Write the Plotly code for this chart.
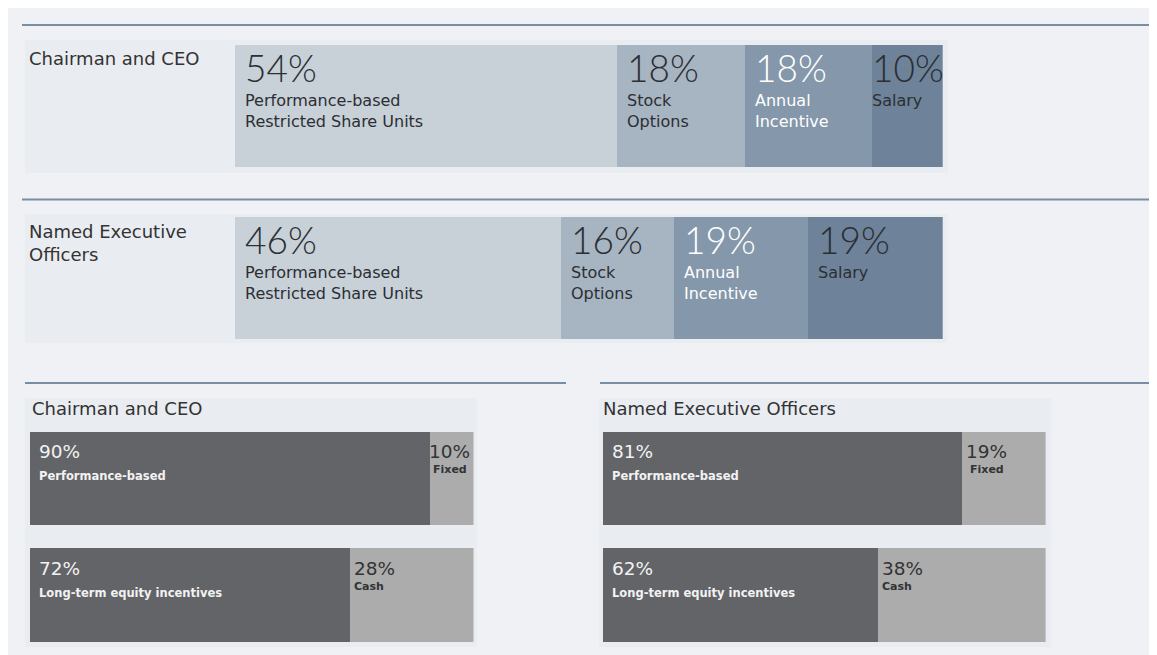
import plotly.graph_objects as go

W, H = 1157, 655

# top chart: target pay mix by component
top_rows = ["Chairman and CEO", "Named Executive Officers"]
top_row_labels = ["Chairman and CEO", "Named Executive<br>Officers"]
components = ["Performance-based<br>Restricted Share Units", "Stock<br>Options", "Annual<br>Incentive", "Salary"]
ceo_mix = [54, 18, 18, 10]
neo_mix = [46, 16, 19, 19]

# bottom charts: performance-based vs fixed, equity vs cash
split_rows = ["perf", "equity"]
split_titles = ["Chairman and CEO", "Named Executive Officers"]
main_labels = ["Performance-based", "Long-term equity incentives"]
rest_labels = ["Fixed", "Cash"]
ceo_main = [90, 72]
ceo_rest = [10, 28]
neo_main = [81, 62]
neo_rest = [19, 38]

comp_colors = ["#c8d0d8", "#a7b4c1", "#8597aa", "#6e8399"]
comp_text = ["#2b2e33", "#2b2e33", "#ffffff", "#2b2e33"]
dark, light = "#636468", "#acacad"
line_col = "#7a8ea3"
box_col = "#e9ecf0"

# page body has an 8px margin, positions below are measured on the page
OFF = 8


def px(x):
    return (x - OFF) / W


def py(y):
    return 1 - (y - OFF) / H


fig = go.Figure()

# top stacked bars
for i, comp in enumerate(components):
    fig.add_trace(go.Bar(
        x=[ceo_mix[i], neo_mix[i]], y=top_rows, orientation="h",
        marker=dict(color=comp_colors[i], line=dict(width=0)),
        width=0.71, name=comp, xaxis="x", yaxis="y", hoverinfo="skip",
    ))

# bottom stacked bars
panels = [(ceo_main, ceo_rest, "x2", "y2"), (neo_main, neo_rest, "x3", "y3")]
for main, rest, xa, ya in panels:
    fig.add_trace(go.Bar(x=main, y=split_rows, orientation="h", marker=dict(color=dark, line=dict(width=0)),
                         width=0.8, xaxis=xa, yaxis=ya, hoverinfo="skip"))
    fig.add_trace(go.Bar(x=rest, y=split_rows, orientation="h", marker=dict(color=light, line=dict(width=0)),
                         width=0.8, xaxis=xa, yaxis=ya, hoverinfo="skip"))

ann = []
font_num = "Lato"
font_txt = "DejaVu Sans"

# top labels
for r, (row, mix) in enumerate(zip(top_rows, [ceo_mix, neo_mix])):
    base = 0
    for i, v in enumerate(mix):
        pad = 10 if v >= 15 else 0
        ann.append(dict(x=base, y=row, xref="x", yref="y", text=f"{v}%", showarrow=False,
                        xanchor="left", yanchor="middle", xshift=pad - 2, yshift=38.5,
                        font=dict(family=font_num, size=37, color=comp_text[i], weight=300)))
        ann.append(dict(x=base, y=row, xref="x", yref="y", text=components[i], showarrow=False,
                        xanchor="left", yanchor="top", xshift=pad - 2, yshift=17, align="left",
                        font=dict(family=font_txt, size=16, color=comp_text[i])))
        base += v

# top row names
for lbl, ytop in zip(top_row_labels, [45.5, 219.5]):
    ann.append(dict(x=px(27), y=py(ytop), xref="paper", yref="paper", text=lbl, showarrow=False,
                    xanchor="left", yanchor="top", align="left",
                    font=dict(family=font_txt, size=18, color="#333333")))

# bottom labels
for (main, rest, xa, ya), title, tx in zip(panels, split_titles, [30, 601]):
    ann.append(dict(x=px(tx), y=py(408.5), xref="paper", yref="paper", text=title, showarrow=False,
                    xanchor="left", yanchor="middle", font=dict(family=font_txt, size=18, color="#333333")))
    for r, row in enumerate(split_rows):
        ann.append(dict(x=0, y=row, xref=xa, yref=ya, text=f"{main[r]}%", showarrow=False,
                        xanchor="left", yanchor="middle", xshift=7, yshift=26.5,
                        font=dict(family=font_txt, size=18.5, color="#f2f2f2")))
        ann.append(dict(x=0, y=row, xref=xa, yref=ya, text=f"<b>{main_labels[r]}</b>", showarrow=False,
                        xanchor="left", yanchor="middle", xshift=7, yshift=2,
                        font=dict(family=font_txt, size=11.5, color="#f2f2f2")))
        pad = 0 if rest[r] < 15 else 5
        ann.append(dict(x=main[r], y=row, xref=xa, yref=ya, text=f"{rest[r]}%", showarrow=False,
                        xanchor="left", yanchor="middle", xshift=pad - 2, yshift=26.5,
                        font=dict(family=font_txt, size=18.5, color="#333333")))
        ann.append(dict(x=main[r], y=row, xref=xa, yref=ya, text=f"<b>{rest_labels[r]}</b>", showarrow=False,
                        xanchor="left", yanchor="middle", xshift=pad - 2 + (4 if r == 0 else 0), yshift=8.5,
                        font=dict(family=font_txt, size=11, color="#333333")))

shapes = []
for x0, y0, x1, y1 in [(25, 40, 948, 172.7), (25, 214, 947, 342.7), (25, 398, 477, 647), (599, 398, 1051, 647)]:
    shapes.append(dict(type="rect", xref="paper", yref="paper", x0=px(x0), x1=px(x1), y0=py(y1), y1=py(y0),
                       fillcolor=box_col, line=dict(width=0), layer="below"))
for x0, x1, y in [(22, 1153, 25), (22, 1153, 199.5), (25, 566, 383), (600, 1154, 383)]:
    shapes.append(dict(type="line", xref="paper", yref="paper", x0=px(x0), x1=px(x1), y0=py(y), y1=py(y),
                       line=dict(color=line_col, width=2)))

hidden = dict(visible=False, showgrid=False, zeroline=False, fixedrange=True)
fig.update_layout(
    width=W, height=H, margin=dict(l=0, r=0, t=0, b=0),
    paper_bgcolor="#eff1f4", plot_bgcolor="rgba(0,0,0,0)",
    barmode="stack", bargap=0, showlegend=False,
    xaxis=dict(domain=[px(235), px(942.7)], range=[0, 100], anchor="y", **hidden),
    yaxis=dict(domain=[py(364), py(20)], range=[1.5, -0.5], type="category",
               categoryorder="array", categoryarray=top_rows, anchor="x", **hidden),
    xaxis2=dict(domain=[px(29.6), px(473.5)], range=[0, 100], anchor="y2", **hidden),
    yaxis2=dict(domain=[py(653.3), py(420.1)], range=[1.5, -0.5], type="category",
                categoryorder="array", categoryarray=split_rows, anchor="x2", **hidden),
    xaxis3=dict(domain=[px(602.8), px(1045.6)], range=[0, 100], anchor="y3", **hidden),
    yaxis3=dict(domain=[py(653.3), py(420.1)], range=[1.5, -0.5], type="category",
                categoryorder="array", categoryarray=split_rows, anchor="x3", **hidden),
    annotations=ann, shapes=shapes,
)

fig.write_html("out.html", config={"displayModeBar": False})
